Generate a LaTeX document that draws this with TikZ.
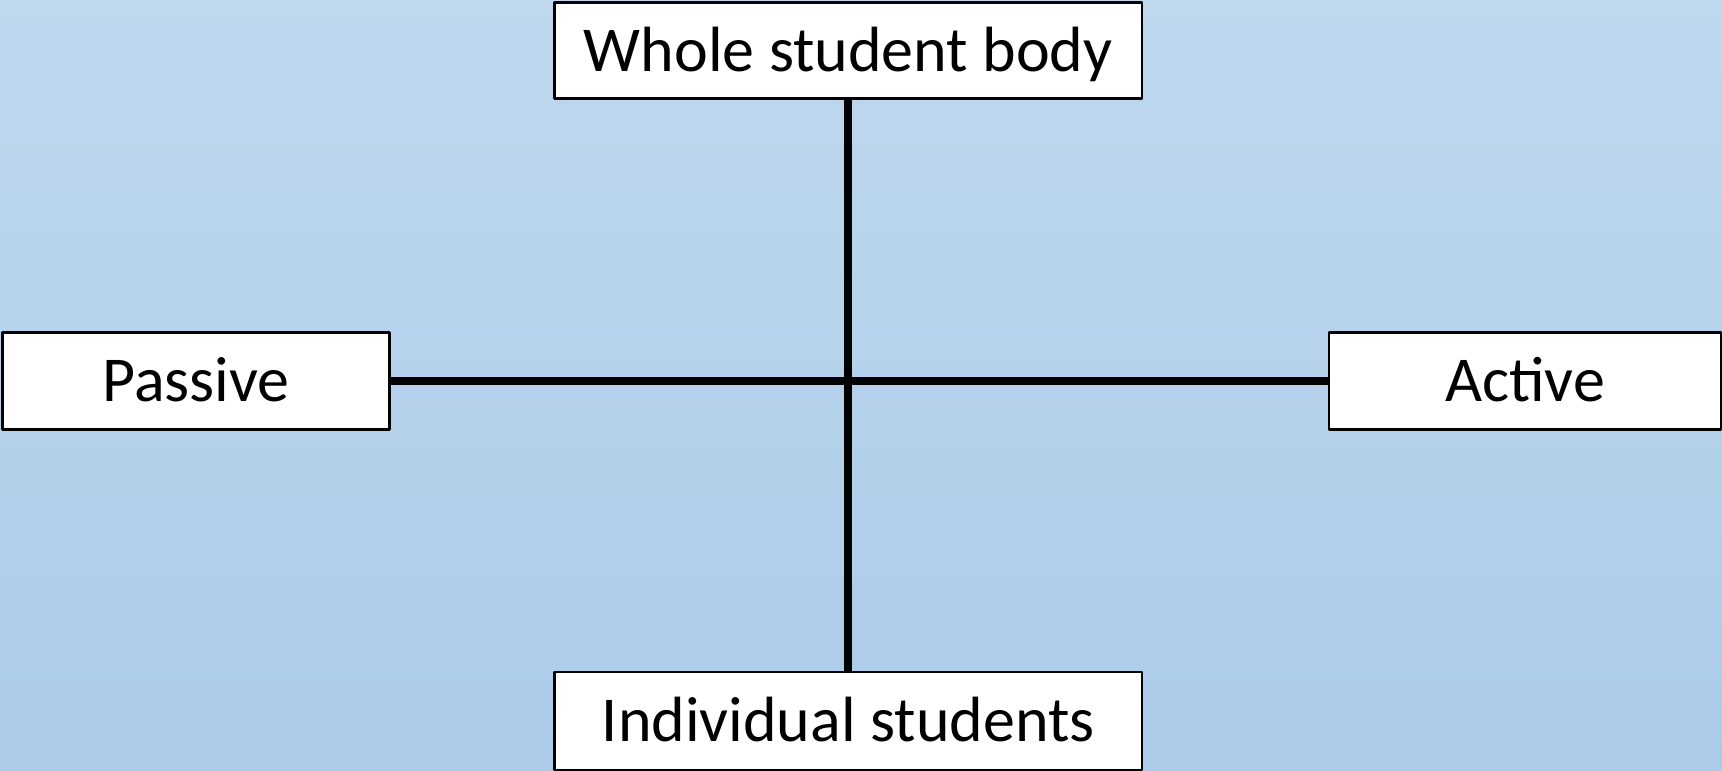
\documentclass[tikz,border=0pt]{standalone}
\usepackage{fontspec}
\setmainfont{Carlito}
\usepackage{pgf,tikz}
\usetikzlibrary{arrows}
\definecolor{bgtop}{RGB}{190,216,238}
\definecolor{bgbot}{RGB}{172,203,233}
\tikzset{axisbox/.style={fill=white, draw=black, line width=0.8pt, inner sep=0pt, text height=11.8pt, text depth=0pt, font=\fontsize{18.2}{22}\selectfont}}
\begin{document}
\begin{tikzpicture}[line cap=round,line join=round,>=triangle 45,x=1cm,y=1cm]
\fill[top color=bgtop, bottom color=bgbot] (0,0) rectangle (17.22,7.70);
\useasboundingbox (0,0) rectangle (17.22,7.70);
\node[axisbox, minimum width=5.875cm, minimum height=0.966cm] (whole) at (8.483,7.195) {Whole student body};
\node[axisbox, minimum width=5.875cm, minimum height=0.98cm] (indiv) at (8.483,0.49) {Individual students};
\node[axisbox, minimum width=3.877cm, minimum height=0.966cm] (passive) at (1.96,3.889) {Passive};
\node[axisbox, minimum width=3.92cm, minimum height=0.966cm] (active) at (15.25,3.889) {Active};
\draw[line width=2.3pt, line cap=butt] (whole) -- (indiv);
\draw[line width=2.3pt, line cap=butt] (passive) -- (active);
\end{tikzpicture}
\end{document}
